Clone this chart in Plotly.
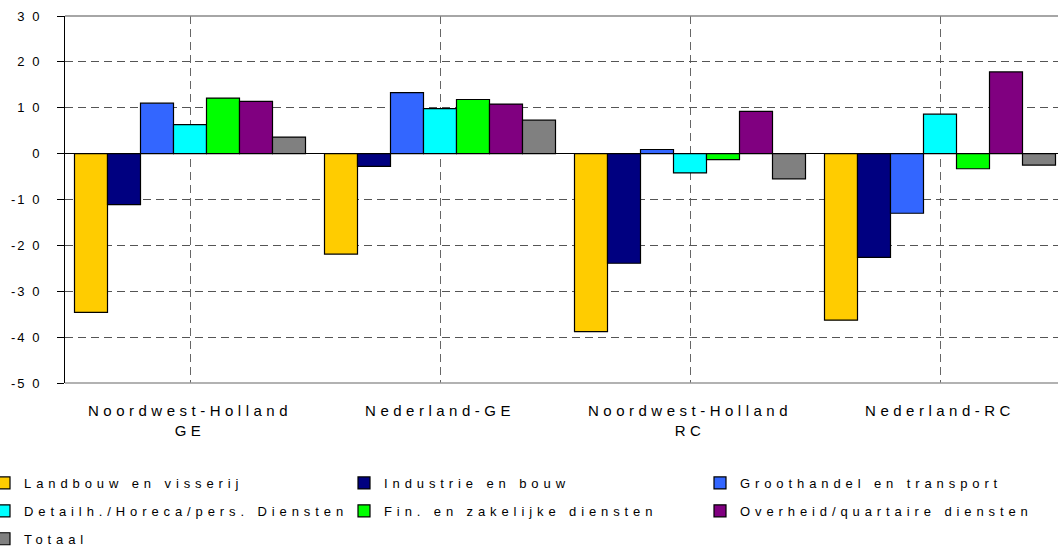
import plotly.graph_objects as go

categories = ["Noordwest-Holland<br>GE", "Nederland-GE", "Noordwest-Holland<br>RC", "Nederland-RC"]
series_names = [
    "Landbouw en visserij",
    "Industrie en bouw",
    "Groothandel en transport",
    "Detailh./Horeca/pers. Diensten",
    "Fin. en zakelijke diensten",
    "Overheid/quartaire diensten",
    "Totaal",
]
landbouw = [-34.6, -21.9, -38.8, -36.3]
industrie = [-11.1, -2.8, -23.9, -22.6]
groothandel = [11.0, 13.3, 0.9, -13.0]
detailhandel = [6.3, 9.8, -4.2, 8.6]
financieel = [12.1, 11.8, -1.3, -3.3]
overheid = [11.4, 10.8, 9.2, 17.8]
totaal = [3.6, 7.3, -5.5, -2.5]
series_values = [landbouw, industrie, groothandel, detailhandel, financieel, overheid, totaal]
colors = ["#FFCC00", "#000080", "#3366FF", "#00FFFF", "#00FF00", "#800080", "#808080"]
# legend column of each series (three columns, filled row by row)
legend_column = ["legend", "legend2", "legend3", "legend", "legend2", "legend3", "legend"]

y_ticks = [30, 20, 10, 0, -10, -20, -30, -40, -50]
y_tick_labels = ["3 0", "2 0", "1 0", "0", "-1 0", "-2 0", "-3 0", "-4 0", "-5 0"]

font_family = "Liberation Sans, Arial, sans-serif"

fig = go.Figure()
for i, (name, vals, col, lg) in enumerate(zip(series_names, series_values, colors, legend_column)):
    fig.add_trace(go.Bar(
        x=list(range(len(categories))), y=vals, name=name,
        marker=dict(color=col, line=dict(color="#000000", width=1.2)),
        legend=lg, legendgroup="g%d" % i,
    ))

W, H = 1058, 548
left, top, plot_bottom = 65, 16, 383
plot_w = W - left
plot_h = plot_bottom - top


def px_x(p):
    return (p - left) / plot_w


def px_y(p):
    return (plot_bottom - p) / plot_h


legend_common = dict(
    orientation="v", xanchor="left", yanchor="top",
    y=px_y(468), font=dict(size=13, family=font_family, color="#000000"),
    itemwidth=30, tracegroupgap=8, traceorder="grouped",
    bgcolor="rgba(0,0,0,0)", borderwidth=0,
)

fig.update_layout(
    template="none",
    width=W, height=H,
    margin=dict(l=left, r=0, t=top, b=H - plot_bottom, autoexpand=False),
    barmode="group", bargap=0.076, bargroupgap=0,
    plot_bgcolor="white", paper_bgcolor="white",
    font=dict(family=font_family, size=13, color="#000000"),
    xaxis=dict(
        tickmode="array", tickvals=list(range(len(categories))), ticktext=categories,
        range=[-0.5, -0.5 + plot_w / 250.0],
        tickson="boundaries", ticks="", showgrid=True,
        gridcolor="#666666", griddash="8px,5px", gridwidth=1,
        showline=False, zeroline=False, automargin=False,
        tickfont=dict(size=15, color="#000000"), ticklabelstandoff=17,
    ),
    yaxis=dict(
        range=[-50, 30], tickmode="array", tickvals=y_ticks, ticktext=y_tick_labels,
        showgrid=True, gridcolor="#555555", griddash="8px,5px", gridwidth=1,
        zeroline=True, zerolinecolor="#000000", zerolinewidth=1,
        showline=True, linecolor="#000000", linewidth=1,
        ticks="outside", ticklen=7, tickcolor="#000000", automargin=False,
        tickfont=dict(size=13, color="#000000"), ticklabelstandoff=13,
    ),
    legend=dict(x=px_x(-16), **legend_common),
    legend2=dict(x=px_x(344), **legend_common),
    legend3=dict(x=px_x(700), **legend_common),
    showlegend=True,
)
# top and bottom border of the plot area
fig.add_shape(type="line", xref="paper", yref="paper", x0=0, x1=1, y0=1, y1=1,
              line=dict(color="#888888", width=1.5))
fig.add_shape(type="line", xref="paper", yref="paper", x0=0, x1=1, y0=0, y1=0,
              line=dict(color="#999999", width=1.5))

spacing_css = (
    "var s=document.createElement('style');"
    "s.textContent='body{margin:0 !important}"
    ".xtick text{letter-spacing:4.5px}"
    ".ytick text{letter-spacing:2px}"
    ".legendtext,.legend2text,.legend3text{letter-spacing:4.9px}"
    ".scrollbox{clip-path:none !important}';"
    "document.head.appendChild(s);"
)

fig.write_html("out.html", post_script=spacing_css, config={"displayModeBar": False})
